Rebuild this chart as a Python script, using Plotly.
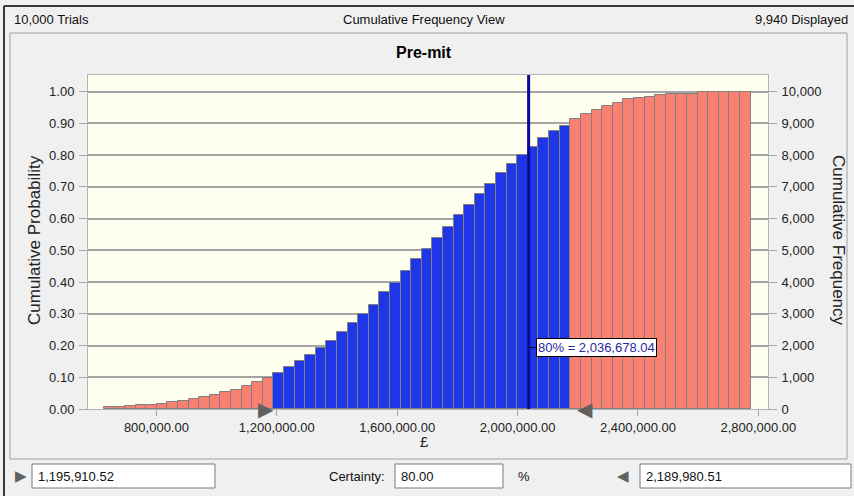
import plotly.graph_objects as go

# ---------------- data ----------------
TRIALS_TEXT = "10,000 Trials"
VIEW_TEXT = "Cumulative Frequency View"
DISPLAYED_TEXT = "9,940 Displayed"
TITLE = "Pre-mit"

BIN_START = 625000.0      # left edge of first bin (£)
BIN_WIDTH = 35230.0       # bin width (£)

# cumulative probability at the end of each bin
cum_prob = [
    0.007, 0.007, 0.008, 0.012, 0.012, 0.016, 0.022, 0.025, 0.030, 0.038,
    0.044, 0.052, 0.059, 0.074, 0.084, 0.099, 0.114, 0.131, 0.150, 0.171,
    0.193, 0.215, 0.242, 0.271, 0.299, 0.329, 0.367, 0.398, 0.435, 0.473,
    0.505, 0.538, 0.574, 0.610, 0.643, 0.676, 0.710, 0.742, 0.773, 0.800,
    0.826, 0.855, 0.877, 0.891, 0.913, 0.929, 0.943, 0.953, 0.965, 0.975,
    0.979, 0.983, 0.990, 0.993, 0.993, 0.993, 0.997, 0.997, 0.997, 0.997,
    0.997,
]

certainty_low = 1195910.52
certainty_high = 2189980.51
certainty_pct = 80.00
marker_value = 2036678.04

x_ticks = [800000, 1200000, 1600000, 2000000, 2400000, 2800000]
prob_ticks = [0.0, 0.1, 0.2, 0.3, 0.4, 0.5, 0.6, 0.7, 0.8, 0.9, 1.0]
freq_ticks = [0, 1000, 2000, 3000, 4000, 5000, 6000, 7000, 8000, 9000, 10000]
total_trials = 10000

# ---------------- styling ----------------
W, H = 854, 496
ML, MR, MT, MB = 88, 86, 75, 87
PW, PH = W - ML - MR, H - MT - MB
FONT = "Liberation Sans"
BLUE = "#1E36E6"
SALMON = "#FA8072"
GRID = "#A5A5A5"


def px(x):
    return (x - ML) / PW


def py(y):
    return (H - MB - y) / PH


centers = [BIN_START + BIN_WIDTH * (i + 0.5) for i in range(len(cum_prob))]
colors = [BLUE if certainty_low <= c <= certainty_high else SALMON for c in centers]

fig = go.Figure()
fig.add_trace(go.Bar(
    x=centers, y=cum_prob, width=BIN_WIDTH,
    marker=dict(color=colors, line=dict(color="#808080", width=1)),
    hoverinfo="skip", showlegend=False,
))
# invisible trace to activate the right-hand frequency axis
fig.add_trace(go.Scatter(
    x=[centers[0]], y=[0], yaxis="y2", mode="markers",
    marker=dict(opacity=0), hoverinfo="skip", showlegend=False,
))

YMAX = 1.052
fig.update_layout(
    width=W, height=H,
    margin=dict(l=ML, r=MR, t=MT, b=MB),
    paper_bgcolor="#F0F0F0",
    plot_bgcolor="#FFFFF0",
    bargap=0,
    font=dict(family=FONT, size=13, color="#222222"),
    xaxis=dict(
        range=[572700, 2832000], tickvals=x_ticks, tickformat=",.2f",
        ticks="outside", ticklen=6, tickcolor=GRID, showgrid=False,
        showline=True, linecolor="#B4B4B4", linewidth=1, mirror=True,
        tickfont=dict(size=13, color="#222222"), zeroline=False,
    ),
    yaxis=dict(
        range=[0, YMAX], tickvals=prob_ticks, tickformat=".2f",
        ticks="outside", ticklen=8, tickcolor=GRID, showgrid=True,
        gridcolor=GRID, gridwidth=1.5, showline=True, linecolor="#B4B4B4",
        linewidth=1, mirror=True, zeroline=False,
        tickfont=dict(size=13, color="#222222"), ticklabelstandoff=2,
    ),
    yaxis2=dict(
        range=[0, YMAX * total_trials], tickvals=freq_ticks, tickformat=",d",
        overlaying="y", side="right", ticks="outside", ticklen=8,
        tickcolor=GRID, showgrid=False, zeroline=False,
        tickfont=dict(size=13, color="#222222"), ticklabelstandoff=2,
    ),
)

shapes = []
annotations = []

# window border lines and chart frame
shapes.append(dict(type="line", xref="paper", yref="paper",
                   x0=px(4), x1=px(854), y0=py(6), y1=py(6),
                   line=dict(color="#3A3A3A", width=2)))
shapes.append(dict(type="line", xref="paper", yref="paper",
                   x0=px(4), x1=px(4), y0=py(6), y1=py(496),
                   line=dict(color="#3A3A3A", width=2)))
shapes.append(dict(type="rect", xref="paper", yref="paper",
                   x0=px(10), x1=px(847), y0=py(33), y1=py(459),
                   line=dict(color="#A0A0A0", width=1), layer="below"))

# certainty marker line
shapes.append(dict(type="line", xref="x", yref="paper",
                   x0=marker_value, x1=marker_value, y0=0, y1=1,
                   line=dict(color="#0A0A9A", width=3)))

# bottom input boxes
for x0, x1 in [(32, 215), (395, 503), (640, 851)]:
    shapes.append(dict(type="rect", xref="paper", yref="paper",
                       x0=px(x0), x1=px(x1), y0=py(464), y1=py(488),
                       line=dict(color="#7A7A7A", width=1), fillcolor="white"))

fig.update_layout(shapes=shapes)


def txt(x, y, s, size=13, anchor="left", color="#111111", bold=False, angle=0):
    annotations.append(dict(
        xref="paper", yref="paper", x=px(x), y=py(y), text=("<b>%s</b>" % s) if bold else s,
        showarrow=False, xanchor=anchor, yanchor="middle", textangle=angle,
        font=dict(family=FONT, size=size, color=color),
    ))


txt(12, 20, TRIALS_TEXT)
txt(424, 20, VIEW_TEXT, anchor="center")
txt(850, 20, DISPLAYED_TEXT, anchor="right")
txt(424, 52, TITLE, size=16, anchor="center", bold=True, color="#000000")
txt(35, 240, "Cumulative Probability", size=17, anchor="center", angle=-90, color="#222222")
txt(838, 240, "Cumulative Frequency", size=17, anchor="center", angle=90, color="#222222")
txt(424, 441, "£", size=15, anchor="center", color="#222222")

# bottom row
txt(36, 476, "{:,.2f}".format(certainty_low))
txt(327, 476, "Certainty:")
txt(399, 476, "{:.2f}".format(certainty_pct))
txt(516, 476, "%")
txt(644, 476, "{:,.2f}".format(certainty_high))
annotations.append(dict(xref="paper", yref="paper", x=px(13), y=py(476), text="▶",
                        showarrow=False, xanchor="left", yanchor="middle",
                        font=dict(family="DejaVu Sans", size=15, color="#606060")))
annotations.append(dict(xref="paper", yref="paper", x=px(631), y=py(476), text="◀",
                        showarrow=False, xanchor="right", yanchor="middle",
                        font=dict(family="DejaVu Sans", size=15, color="#606060")))

# certainty grabbers on the axis
annotations.append(dict(xref="x", yref="y", x=certainty_low, y=0, text="▶",
                        showarrow=False, xanchor="right", yanchor="middle",
                        font=dict(family="DejaVu Sans", size=20, color="#606060")))
annotations.append(dict(xref="x", yref="y", x=certainty_high, y=0, text="◀",
                        showarrow=False, xanchor="left", yanchor="middle",
                        font=dict(family="DejaVu Sans", size=20, color="#606060")))

# value label
annotations.append(dict(
    xref="x", yref="y", x=marker_value, y=0.194,
    text="{:.0f}% = {:,.2f}".format(certainty_pct, marker_value),
    showarrow=True, arrowhead=0, arrowwidth=1, arrowcolor="#000000",
    ax=7, ay=0, xanchor="left", yanchor="middle",
    bgcolor="white", bordercolor="#000000", borderwidth=1, borderpad=1,
    font=dict(family=FONT, size=13, color="#2B2BA0"),
))

fig.update_layout(annotations=annotations)
fig.write_html("out.html", config={"displayModeBar": False},
               post_script="document.body.style.margin='0';")
